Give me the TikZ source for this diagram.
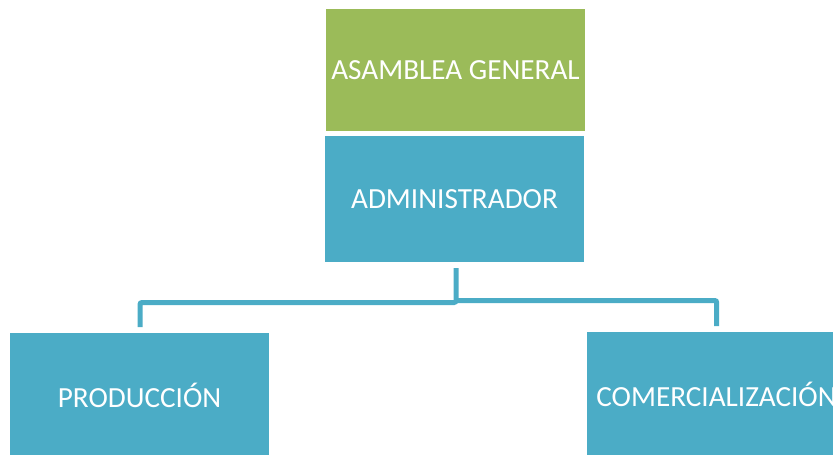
\documentclass[tikz,border=0pt]{standalone}
\usepackage{fontspec}
\setmainfont{Carlito}
\definecolor{agreen}{HTML}{9BBB59}
\definecolor{ablue}{HTML}{4BACC6}
\begin{document}
\begin{tikzpicture}[x=1pt,y=-1pt,
  orgbox/.style={draw=none,inner sep=0pt,minimum width=259pt,text=white,font=\fontsize{29.2}{34}\selectfont},
  link/.style={draw=ablue,line width=5pt,rounded corners=2pt}]
\useasboundingbox (0,0) rectangle (833,455);
\clip (0,0) rectangle (833,455);
\node[orgbox,fill=agreen,minimum height=122pt] (ag) at (455.5,70) {\raisebox{-2pt}{ASAMBLEA GENERAL}};
\node[orgbox,fill=ablue,minimum height=126pt] (adm) at (454.5,199) {ADMINISTRADOR};
\node[orgbox,fill=ablue,minimum height=126pt] (prod) at (139.5,395.5) {PRODUCCIÓN};
\node[orgbox,fill=ablue,minimum height=126pt] (com) at (716.5,394.5) {COMERCIALIZACIÓN};
\coordinate (top) at (456,268);
\coordinate (lj) at (456,302.5);
\coordinate (rj) at (454,300.5);
\coordinate (pl) at (140,327);
\coordinate (cr) at (716.7,326);
\path[link] (top) -- (lj) -| (pl);
\path[link] (rj) -| (cr);
\end{tikzpicture}
\end{document}
